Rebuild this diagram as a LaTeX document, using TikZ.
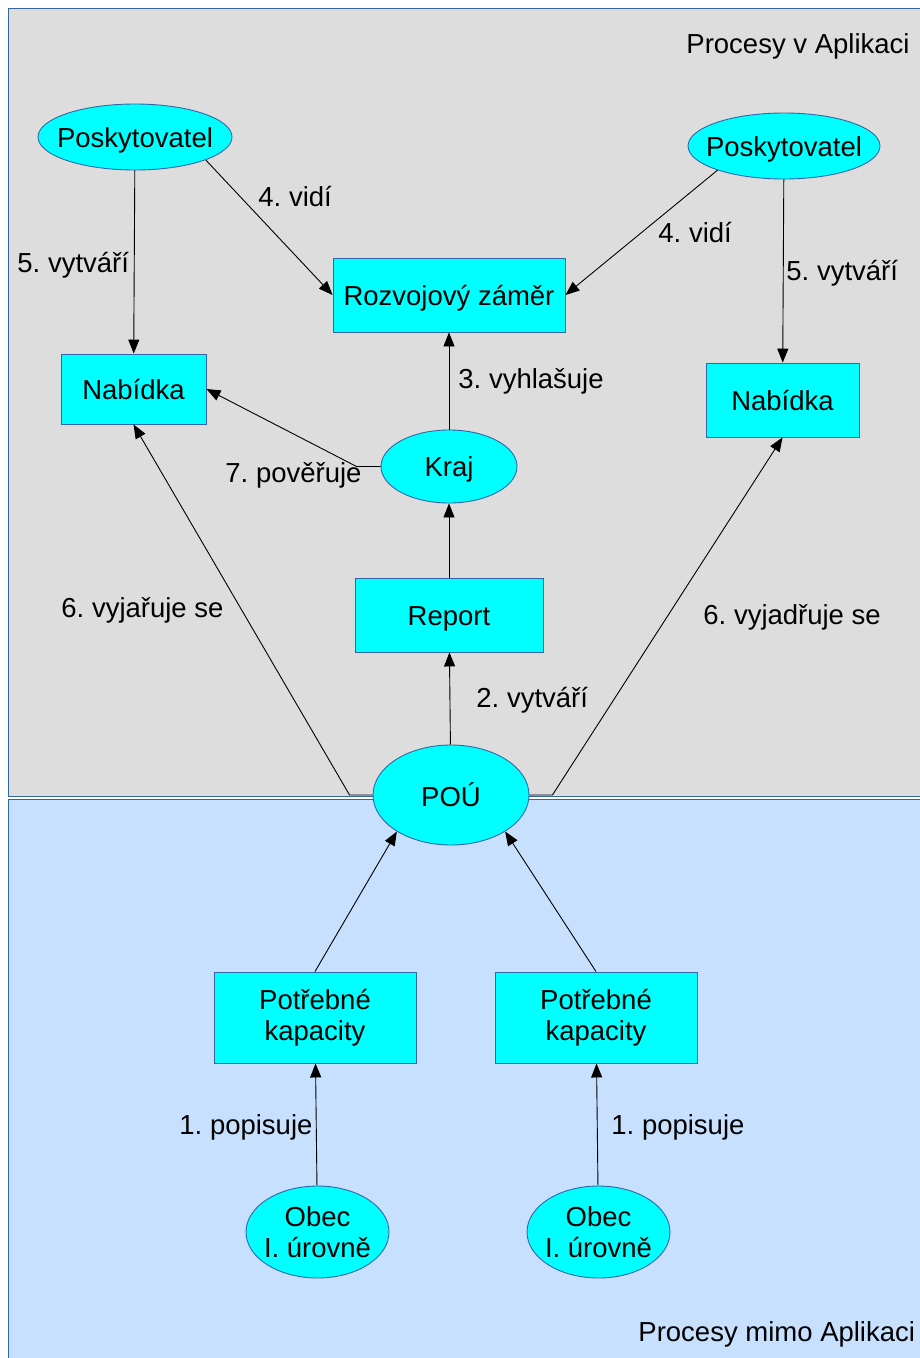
\documentclass[tikz,border=0pt]{standalone}
\usepackage{fontspec}
\setmainfont{Liberation Sans}
\usetikzlibrary{arrows.meta,shapes.geometric}
\frenchspacing

\definecolor{uzel}{RGB}{0,255,255}
\definecolor{okraj}{RGB}{52,101,164}
\definecolor{sedapl}{RGB}{221,221,221}
\definecolor{modrapl}{RGB}{198,224,254}

\newcommand{\dfont}{\fontsize{27.5}{31}\selectfont}
\newcommand{\ovtext}[1]{\makebox[0pt]{\raisebox{-10.4pt}[0pt][0pt]{\begin{tabular}{@{}c@{}}#1\end{tabular}}}}

\tikzset{
    box/.style={rectangle, draw=okraj, fill=uzel, inner sep=0pt, align=center},
    jeden/.style={text height=21pt, text depth=1pt},
    oval/.style={ellipse, draw=okraj, fill=uzel, inner sep=0pt},
    lbl/.style={anchor=base west, inner sep=0pt}
}

\begin{document}
\begin{tikzpicture}[x=1pt,
            y=-1pt,
            ->,
            >={Triangle[length=14pt,width=11pt]},
            line width=0.9pt,
            font=\dfont]

        \useasboundingbox (0,0) rectangle (920,1358);
        \fill[white] (0,0) rectangle (920,1358);
        \draw[-, draw=okraj, fill=sedapl]  (8,8)   rectangle (930,796);
        \draw[-, draw=okraj, fill=modrapl] (8,799) rectangle (930,1370);

        \node[lbl] (oblast1) at (686,53)   {Procesy v Aplikaci};
        \node[lbl] (oblast2) at (638,1341) {Procesy mimo Aplikaci};

        \node[oval, minimum width=194pt, minimum height=66pt]         (posk1) at (135,137)    {\ovtext{Poskytovatel}};
        \node[oval, minimum width=192pt, minimum height=66pt]         (posk2) at (784,146)    {\ovtext{Poskytovatel}};
        \node[box, jeden, minimum width=232pt, minimum height=74pt]   (zamer) at (449,295)    {Rozvojový záměr};
        \node[box, jeden, minimum width=145pt, minimum height=70pt]   (nab1)  at (133.5,389)  {Nabídka};
        \node[box, jeden, minimum width=153pt, minimum height=74pt]   (nab2)  at (782.5,400)  {Nabídka};
        \node[oval, minimum width=136pt, minimum height=73pt]         (kraj)  at (449,466.5)  {\ovtext{Kraj}};
        \node[box, jeden, minimum width=188pt, minimum height=74pt]   (rep)   at (449,615)    {Report};
        \node[oval, minimum width=156pt, minimum height=100pt]        (pou)   at (451,795)    {\ovtext{POÚ}};
        \node[box, minimum width=202pt, minimum height=91pt]          (kap1)  at (315,1017.5) {Potřebné\\kapacity};
        \node[box, minimum width=202pt, minimum height=91pt]          (kap2)  at (596,1017.5) {Potřebné\\kapacity};
        \node[oval, minimum width=143pt, minimum height=92pt]         (obec1) at (317.5,1232) {\ovtext{Obec\\I. úrovně}};
        \node[oval, minimum width=143pt, minimum height=92pt]         (obec2) at (598.5,1232) {\ovtext{Obec\\I. úrovně}};

        \path (posk1)      edge (nab1)
              (posk1.-18)  edge (zamer.west)
              (posk2.200)  edge (zamer.east)
              (posk2)      edge (nab2)
              (kraj)       edge (zamer)
              (rep)        edge (kraj)
              (pou)        edge (rep)
              (kap1.north) edge (pou.214)
              (kap2.north) edge (pou.-34)
              (obec1)      edge (kap1)
              (obec2)      edge (kap2);

        \draw (kraj.west) -- ++(-24,0) -- (nab1.east);
        \draw (pou.west)  -- ++(-23,0) -- (nab1.south);
        \draw (pou.east)  -- ++(23,0)  -- (nab2.south);

        \node[lbl] (t5a) at (17,272)   {5. vytváří};
        \node[lbl] (t4a) at (258,206)  {4. vidí};
        \node[lbl] (t4b) at (658,242)  {4. vidí};
        \node[lbl] (t5b) at (786,280)  {5. vytváří};
        \node[lbl] (t3)  at (458,388)  {3. vyhlašuje};
        \node[lbl] (t7)  at (225,482)  {7. pověřuje};
        \node[lbl] (t6a) at (61,617)   {6. vyjařuje se};
        \node[lbl] (t6b) at (703,624)  {6. vyjadřuje se};
        \node[lbl] (t2)  at (476,707)  {2. vytváří};
        \node[lbl] (t1a) at (179,1134) {1. popisuje};
        \node[lbl] (t1b) at (611,1134) {1. popisuje};

    \end{tikzpicture}
\end{document}
